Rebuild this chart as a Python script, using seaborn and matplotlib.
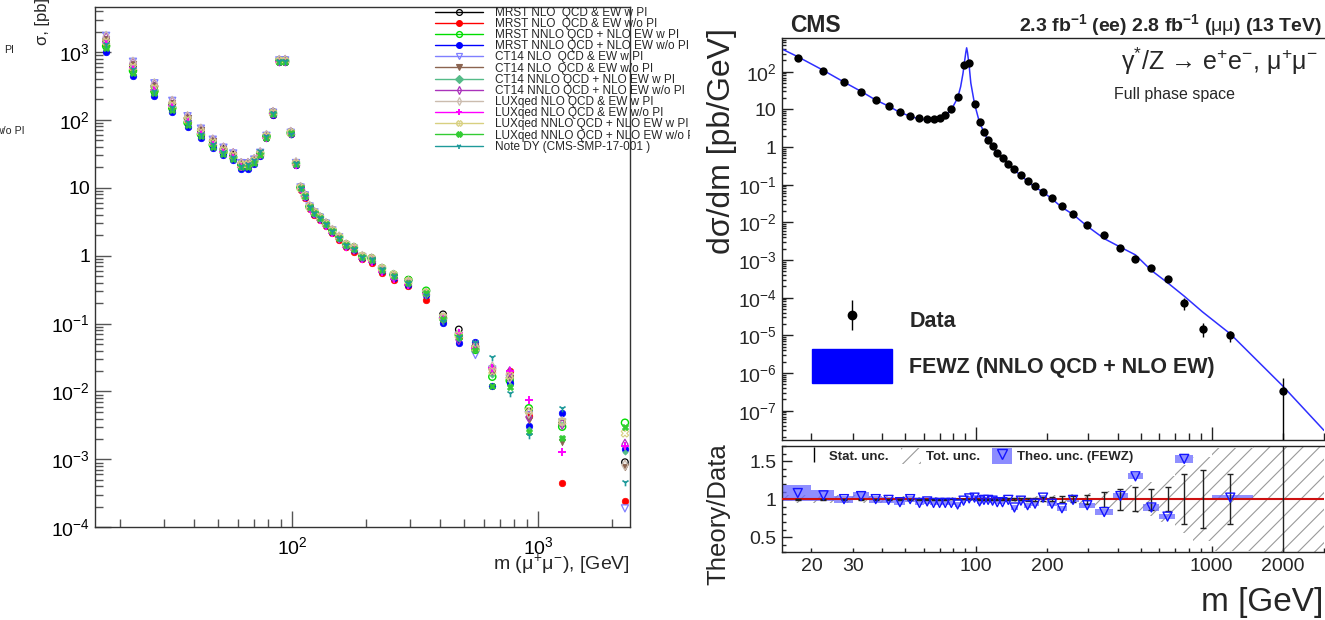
import numpy as np
import pandas as pd
import matplotlib
matplotlib.use("Agg")
import matplotlib.pyplot as plt
import seaborn as sns
from matplotlib.lines import Line2D
from matplotlib.patches import Patch, Rectangle
from matplotlib.legend_handler import HandlerTuple
from matplotlib.ticker import LogLocator, NullFormatter, FuncFormatter, MultipleLocator

# ======================= DATA =======================
# ---- left panel: sigma per mass bin [pb] ----
mass_left = [17.5, 22.5, 27.5, 32.5, 37.5, 42.5, 47.5, 52.5, 57.5, 62, 66, 70, 74, 78.5,
             83.5, 88.5, 93.5, 98.5, 103.5, 108, 112.5, 117.5, 123, 129.5, 137, 145.5, 155,
             165.5, 178, 192.5, 210, 231.5, 258, 296.5, 350, 410, 475, 555, 650, 765, 915,
             1250, 2250]
# central value of the point cluster for the first 34 bins
sigma_central = [1330, 570, 279, 159, 96, 64, 44.8, 34.8, 29.1, 21.4, 21.7, 24.8, 31.5, 56.6,
                 125, 737, 736, 64, 22.7, 9.9, 7.5, 5.2, 4.26, 3.59, 2.9, 2.31, 1.85, 1.42,
                 1.27, 0.957, 0.877, 0.624, 0.497, 0.40]
# per-series position relative to the cluster centre (first 34 bins) and values above 320 GeV
mrst_nlo_pi_lo = [1.12, 1.10, 1.12, 1.08, 1.10, 1.09, 1.08, 1.07, 1.06, 1.04, 1.05, 1.04, 1.03, 1.04, 1.05, 1.03, 1.04,
                  1.04, 1.03, 1.04, 1.05, 1.04, 1.03, 1.04, 1.05, 1.04, 1.03, 1.04, 1.05, 1.04, 1.06, 1.05, 1.06, 1.10]
mrst_nlo_pi_hi = [0.28, 0.137, 0.082, 0.046, 0.022, 0.016, 0.00505, 0.0034, 0.00091]
mrst_nlo_nopi_lo = [0.95, 0.96, 0.97, 0.95, 0.96, 0.95, 0.96, 0.97, 0.95, 0.97, 0.96, 0.97, 0.98, 0.97, 0.96, 0.98, 0.97,
                    0.97, 0.96, 0.93, 0.94, 0.95, 0.94, 0.95, 0.93, 0.94, 0.92, 0.93, 0.90, 0.92, 0.90, 0.88, 0.89, 0.90]
mrst_nlo_nopi_hi = [0.223, 0.112, 0.063, 0.044, 0.021, 0.020, 0.0043, 0.000454, 0.000247]
mrst_nnlo_pi_lo = [0.92, 0.93, 0.95, 0.94, 0.95, 0.96, 0.96, 0.97, 0.97, 0.98, 1.00, 1.01, 1.02, 1.00, 1.00, 1.01, 1.00,
                   1.00, 1.01, 1.02, 1.02, 1.01, 1.02, 1.03, 1.02, 1.03, 1.02, 1.03, 1.04, 1.03, 1.04, 1.05, 1.06, 1.10]
mrst_nnlo_pi_hi = [0.305, 0.12, 0.068, 0.041, 0.0165, 0.0145, 0.00566, 0.00303, 0.00347]
mrst_nnlo_nopi_lo = [0.76, 0.78, 0.80, 0.82, 0.82, 0.84, 0.85, 0.86, 0.87, 0.88, 0.88, 0.90, 0.92, 0.94, 0.95, 0.96, 0.97,
                     0.97, 0.97, 0.98, 0.98, 0.97, 0.98, 0.98, 0.97, 0.97, 0.98, 0.97, 0.96, 0.96, 0.95, 0.95, 0.94, 0.92]
mrst_nnlo_nopi_hi = [0.26, 0.101, 0.052, 0.054, 0.012, 0.0132, 0.0031, 0.00478, 0.00142]
ct14_nlo_pi_lo = [1.30, 1.26, 1.24, 1.20, 1.18, 1.16, 1.14, 1.12, 1.10, 1.08, 1.06, 1.05, 1.04, 1.03, 1.02, 1.02, 1.02,
                  1.01, 1.02, 1.02, 1.03, 1.02, 1.02, 1.01, 1.02, 1.02, 1.01, 1.00, 1.00, 1.00, 0.99, 0.99, 0.98, 0.97]
ct14_nlo_pi_hi = [0.27, 0.118, 0.066, 0.0345, 0.021, 0.0155, 0.0045, 0.0035, 0.00019]
ct14_nlo_nopi_lo = [1.18, 1.15, 1.14, 1.12, 1.10, 1.10, 1.08, 1.07, 1.06, 1.04, 1.03, 1.03, 1.02, 1.01, 1.00, 1.00, 1.00,
                    1.00, 1.00, 1.00, 1.00, 0.99, 0.99, 1.00, 0.99, 0.99, 0.98, 0.98, 0.97, 0.97, 0.96, 0.96, 0.95, 0.95]
ct14_nlo_nopi_hi = [0.265, 0.115, 0.062, 0.046, 0.019, 0.016, 0.0038, 0.00182, 0.00076]
ct14_nnlo_pi_lo = [0.90, 0.90, 0.92, 0.92, 0.93, 0.93, 0.94, 0.94, 0.95, 0.96, 0.96, 0.97, 0.97, 0.98, 0.98, 0.99, 0.99,
                   0.99, 1.00, 1.00, 1.00, 1.00, 1.00, 1.01, 1.00, 1.01, 1.01, 1.00, 1.00, 1.01, 1.00, 1.00, 1.01, 1.02]
ct14_nnlo_pi_hi = [0.27, 0.112, 0.060, 0.052, 0.0175, 0.0125, 0.0028, 0.0021, 0.00127]
ct14_nnlo_nopi_lo = [1.22, 1.20, 1.18, 1.16, 1.14, 1.13, 1.12, 1.10, 1.09, 1.06, 1.05, 1.04, 1.03, 1.02, 1.02, 1.01, 1.02,
                     1.02, 1.01, 1.01, 1.01, 1.00, 1.00, 1.00, 0.99, 1.00, 0.99, 0.99, 0.98, 0.98, 0.98, 0.97, 0.97, 0.97]
ct14_nnlo_nopi_hi = [0.275, 0.116, 0.058, 0.047, 0.021, 0.0195, 0.0042, 0.0033, 0.00167]
lux_nlo_pi_lo = [1.28, 1.24, 1.22, 1.18, 1.16, 1.14, 1.12, 1.10, 1.08, 1.06, 1.05, 1.05, 1.04, 1.04, 1.03, 1.02, 1.02,
                 1.02, 1.03, 1.02, 1.02, 1.03, 1.02, 1.02, 1.03, 1.02, 1.02, 1.02, 1.03, 1.02, 1.03, 1.03, 1.04, 1.04]
lux_nlo_pi_hi = [0.28, 0.122, 0.070, 0.045, 0.023, 0.0158, 0.0048, 0.00359, 0.00082]
lux_nlo_nopi_lo = [1.02, 1.02, 1.00, 1.00, 1.00, 0.99, 0.99, 0.98, 0.98, 0.96, 0.96, 0.96, 0.97, 0.97, 0.98, 0.98, 0.98,
                   0.98, 0.97, 0.96, 0.96, 0.95, 0.96, 0.95, 0.95, 0.95, 0.94, 0.93, 0.94, 0.92, 0.93, 0.92, 0.91, 0.93]
lux_nlo_nopi_hi = [0.27, 0.12, 0.073, 0.044, 0.022, 0.0202, 0.0075, 0.0013, 0.0016]
lux_nnlo_pi_lo = [1.06, 1.05, 1.05, 1.04, 1.04, 1.03, 1.03, 1.02, 1.02, 1.02, 1.02, 1.01, 1.01, 1.01, 1.01, 1.00, 1.00,
                  1.01, 1.01, 1.01, 1.01, 1.01, 1.02, 1.01, 1.02, 1.02, 1.02, 1.03, 1.03, 1.03, 1.04, 1.04, 1.05, 1.05]
lux_nnlo_pi_hi = [0.285, 0.125, 0.067, 0.043, 0.020, 0.017, 0.0052, 0.0036, 0.00242]
lux_nnlo_nopi_lo = [0.86, 0.87, 0.88, 0.88, 0.89, 0.90, 0.90, 0.91, 0.92, 0.93, 0.94, 0.95, 0.96, 0.97, 0.98, 0.98, 0.98,
                    0.99, 0.99, 0.99, 1.00, 1.00, 0.99, 1.00, 1.00, 1.00, 0.99, 1.00, 1.00, 0.99, 1.00, 1.00, 1.00, 1.00]
lux_nnlo_nopi_hi = [0.28, 0.117, 0.064, 0.041, 0.012, 0.0115, 0.00256, 0.00209, 0.00303]
note_dy_lo = [0.98, 0.98, 0.97, 0.97, 0.97, 0.98, 0.98, 0.98, 0.98, 0.97, 1.05, 1.04, 1.10, 1.03, 1.00, 0.99, 1.00,
              0.96, 1.03, 1.00, 1.00, 1.00, 1.01, 1.00, 1.00, 1.01, 1.00, 1.00, 1.00, 1.01, 1.02, 1.01, 1.02, 1.00]
note_dy_hi = [0.26, 0.11, 0.063, 0.053, 0.0326, 0.0094, 0.00229, 0.00566, 0.00047]

series_labels = ["MRST NLO  QCD & EW w PI", "MRST NLO  QCD & EW w/o PI",
                 "MRST NNLO QCD + NLO EW w PI", "MRST NNLO QCD + NLO EW w/o PI",
                 "CT14 NLO  QCD & EW w PI", "CT14 NLO  QCD & EW w/o PI",
                 "CT14 NNLO QCD + NLO EW w PI", "CT14 NNLO QCD + NLO EW w/o PI",
                 "LUXqed NLO QCD & EW w PI", "LUXqed NLO QCD & EW w/o PI",
                 "LUXqed NNLO QCD + NLO EW w PI", "LUXqed NNLO QCD + NLO EW w/o PI",
                 "Note DY (CMS-SMP-17-001 )"]
series_lo = [mrst_nlo_pi_lo, mrst_nlo_nopi_lo, mrst_nnlo_pi_lo, mrst_nnlo_nopi_lo, ct14_nlo_pi_lo,
             ct14_nlo_nopi_lo, ct14_nnlo_pi_lo, ct14_nnlo_nopi_lo, lux_nlo_pi_lo, lux_nlo_nopi_lo,
             lux_nnlo_pi_lo, lux_nnlo_nopi_lo, note_dy_lo]
series_hi = [mrst_nlo_pi_hi, mrst_nlo_nopi_hi, mrst_nnlo_pi_hi, mrst_nnlo_nopi_hi, ct14_nlo_pi_hi,
             ct14_nlo_nopi_hi, ct14_nnlo_pi_hi, ct14_nnlo_nopi_hi, lux_nlo_pi_hi, lux_nlo_nopi_hi,
             lux_nnlo_pi_hi, lux_nnlo_nopi_hi, note_dy_hi]

# ---- right panel: CMS dsigma/dm ----
bin_edges = [15, 20, 25, 30, 35, 40, 45, 50, 55, 60, 64, 68, 72, 76, 81, 86, 91, 96, 101, 106, 110,
             115, 120, 126, 133, 141, 150, 160, 171, 185, 200, 220, 243, 273, 320, 380, 440, 510,
             600, 700, 830, 1000, 1500, 3000]
mass_right = [17.5, 22.5, 27.5, 32.5, 37.5, 42.5, 47.5, 52.5, 57.5, 62, 66, 70, 74, 78.5, 83.5,
              88.5, 93.5, 98.5, 103.5, 108, 112.5, 117.5, 123, 129.5, 137, 145.5, 155, 165.5, 178,
              192.5, 210, 231.5, 258, 296.5, 350, 410, 475, 555, 650, 765, 915, 1200, 2000]
dsdm_data = [235, 104, 53, 29, 17.7, 12.3, 8.67, 6.63, 5.79, 5.46, 5.56, 5.92, 7.06, 10.0, 21.7,
             150, 167, 13.6, 4.5, 2.5, 1.5, 1.04, 0.71, 0.51, 0.36, 0.257, 0.185, 0.129, 0.091,
             0.064, 0.044, 0.027, 0.0166, 0.0085, 0.0045, 0.0021, 0.00105, 6.0e-4, 3.2e-4, 7.2e-5,
             1.5e-5, 1.0e-5, 3.3e-7]
stat_rel = [0.006, 0.006, 0.005, 0.005, 0.005, 0.005, 0.005, 0.005, 0.005, 0.005, 0.005, 0.005, 0.005,
            0.004, 0.003, 0.002, 0.002, 0.004, 0.005, 0.006, 0.007, 0.008, 0.008, 0.009, 0.010, 0.011,
            0.012, 0.02, 0.02, 0.025, 0.03, 0.035, 0.04, 0.06, 0.10, 0.14, 0.16, 0.14, 0.16, 0.33,
            0.38, 0.33, 1.2]
fewz_mass = [15, 17.5, 22.5, 27.5, 32.5, 37.5, 42.5, 47.5, 52.5, 57.5, 62, 66, 70, 74, 78.5, 83.5,
             86, 88, 89.5, 90.5, 91.2, 92, 93.5, 95, 98.5, 103.5, 108, 112.5, 117.5, 123, 129.5, 137,
             145.5, 155, 165.5, 178, 192.5, 210, 231.5, 258, 296.5, 350, 410, 475, 555, 650, 765,
             915, 1200, 2000, 3000]
fewz_dsdm = [400, 250, 108, 53, 30, 17.7, 12.2, 8.3, 6.6, 5.5, 5.3, 5.3, 5.7, 6.8, 9.8, 20,
             40, 90, 200, 330, 430, 320, 140, 50, 14, 4.4, 2.5, 1.5, 1.02, 0.69, 0.5, 0.35,
             0.235, 0.18, 0.12, 0.086, 0.064, 0.042, 0.025, 0.0163, 0.0079, 0.0037, 0.0022, 0.00137,
             5.3e-4, 2.5e-4, 1.1e-4, 4.2e-5, 1.1e-5, 4.6e-7, 3.0e-8]
ratio_theory_data = [1.08, 1.05, 1.0, 1.04, 1.0, 0.99, 0.96, 1.0, 0.95, 0.97, 0.95, 0.95, 0.95, 0.95,
                     0.93, 0.98, 1.01, 1.02, 0.97, 0.99, 0.99, 0.98, 0.96, 0.96, 0.99, 0.89, 0.98,
                     0.92, 0.94, 1.02, 0.94, 0.88, 0.99, 0.92, 0.83, 1.04, 1.30, 0.89, 0.77, 1.53,
                     np.nan, 1.02, np.nan]
theo_unc = [0.10, 0.07, 0.045, 0.055, 0.045, 0.04, 0.035, 0.035, 0.03, 0.03, 0.03, 0.03, 0.03, 0.03,
            0.03, 0.03, 0.03, 0.03, 0.03, 0.03, 0.03, 0.03, 0.03, 0.03, 0.03, 0.03, 0.03, 0.03, 0.03,
            0.03, 0.03, 0.03, 0.03, 0.035, 0.035, 0.035, 0.04, 0.04, 0.035, 0.05, 0.05, 0.035, 0.05]
tot_unc = [0.05, 0.05, 0.05, 0.05, 0.045, 0.04, 0.035, 0.03, 0.03, 0.03, 0.03, 0.03, 0.03, 0.03,
           0.03, 0.03, 0.03, 0.03, 0.03, 0.03, 0.03, 0.03, 0.03, 0.035, 0.035, 0.035, 0.04, 0.04,
           0.045, 0.05, 0.05, 0.06, 0.07, 0.08, 0.11, 0.15, 0.18, 0.22, 0.30, 0.45, 0.55, 0.68, 1.5]
ratio_xtick_labels = [20, 30, 100, 200, 1000, 2000]

for lst in series_lo:
    assert len(lst) == len(sigma_central)
for lst in series_hi:
    assert len(lst) == len(mass_left) - len(sigma_central)
for lst in (dsdm_data, stat_rel, ratio_theory_data, theo_unc, tot_unc):
    assert len(lst) == len(mass_right) == len(bin_edges) - 1
assert len(fewz_mass) == len(fewz_dsdm)

# ======================= STYLE =======================
sns.set_theme(style="ticks")
plt.rcParams["font.family"] = ["Liberation Sans", "DejaVu Sans"]
plt.rcParams["mathtext.fontset"] = "custom"
plt.rcParams["mathtext.rm"] = "Liberation Sans"
plt.rcParams["mathtext.it"] = "Liberation Sans"
plt.rcParams["mathtext.bf"] = "Liberation Sans:bold"
plt.rcParams["hatch.linewidth"] = 0.8
plt.rcParams["axes.linewidth"] = 1.0

W, H = 1325, 620
fig = plt.figure(figsize=(W / 100, H / 100), dpi=100)
fig.patch.set_facecolor("white")


def fx(px):
    return px / W


def fy(py):
    return 1 - py / H


def sci_label(v, pos=None):
    if v <= 0:
        return ""
    e = int(round(np.log10(v)))
    if abs(v - 10.0 ** e) > 1e-6 * v:
        return ""
    if e == 0:
        return "1"
    if e == 1:
        return "10"
    return r"10$^{%d}$" % e


def pow_label(v, pos=None):
    e = int(round(np.log10(v)))
    return r"10$^{%d}$" % e


# ======================= LEFT PANEL =======================
axL = fig.add_axes([fx(95.4), fy(527.3), fx(630) - fx(95.4), fy(6.7) - fy(527.3)])
axL.set_zorder(0)
axL.set_xscale("log")
axL.set_yscale("log")

rows = []
for lab, lo, hi in zip(series_labels, series_lo, series_hi):
    vals = [c * r for c, r in zip(sigma_central, lo)] + list(hi)
    for m, v in zip(mass_left, vals):
        rows.append((m, v, lab))
df_left = pd.DataFrame(rows, columns=["mass", "sigma", "series"])

left_styles = [
    dict(marker="o", color="#000000", filled=False, s=22, lw=0.9),
    dict(marker="o", color="#ff0000", filled=True, s=22, lw=0.5),
    dict(marker="o", color="#00dd00", filled=False, s=26, lw=1.0),
    dict(marker="o", color="#0000ff", filled=True, s=22, lw=0.5),
    dict(marker="v", color="#7f7fff", filled=False, s=26, lw=0.9),
    dict(marker="v", color="#8b6450", filled=True, s=22, lw=0.5),
    dict(marker="D", color="#55bb88", filled=True, s=7, lw=0.5),
    dict(marker="d", color="#aa33bb", filled=False, s=26, lw=0.9),
    dict(marker="d", color="#cbbcae", filled=False, s=26, lw=0.9),
    dict(marker="+", color="#ff00ff", filled=None, s=34, lw=1.4),
    dict(marker="X", color="#d8d080", filled=False, s=28, lw=0.8),
    dict(marker="X", color="#33cc33", filled=True, s=20, lw=0.5),
    dict(marker="1", color="#1f9a9a", filled=None, s=30, lw=1.2),
]

for lab, st in zip(series_labels, left_styles):
    sub = df_left[df_left["series"] == lab]
    kw = dict(marker=st["marker"], s=st["s"], linewidth=st["lw"], color=st["color"])
    if st["filled"] is None:
        kw["edgecolor"] = None
    elif st["filled"]:
        kw["edgecolor"] = st["color"]
    else:
        kw["facecolor"] = "none"
        kw["edgecolor"] = st["color"]
    sns.scatterplot(data=sub, x="mass", y="sigma", ax=axL, legend=False, zorder=3, **kw)

axL.set_xlim(15.83, 2359)
axL.set_ylim(1e-4, 4645)
axL.set_xlabel("")
axL.set_ylabel("")
axL.xaxis.set_major_locator(LogLocator(base=10, numticks=20))
axL.xaxis.set_minor_locator(LogLocator(base=10, subs=np.arange(2, 10), numticks=20))
axL.xaxis.set_major_formatter(FuncFormatter(pow_label))
axL.xaxis.set_minor_formatter(NullFormatter())
axL.yaxis.set_major_locator(LogLocator(base=10, numticks=20))
axL.yaxis.set_minor_locator(LogLocator(base=10, subs=np.arange(2, 10), numticks=20))
axL.yaxis.set_major_formatter(FuncFormatter(sci_label))
axL.yaxis.set_minor_formatter(NullFormatter())
axL.tick_params(axis="both", which="both", direction="in", color="#555555", width=1,
                labelcolor="black", labelsize=14, top=False, right=False)
axL.tick_params(axis="both", which="major", length=11.5)
axL.tick_params(axis="both", which="minor", length=5.5)
axL.tick_params(axis="x", which="major", pad=6.5)
axL.tick_params(axis="y", which="major", pad=3.9)
for sp in axL.spines.values():
    sp.set_color("#333333")
    sp.set_linewidth(1.0)

handles = []
for st in left_styles:
    mfc = st["color"] if st["filled"] in (True, None) else "none"
    handles.append(Line2D([], [], color=st["color"], lw=1.0, marker=st["marker"],
                          markersize=4.2, markerfacecolor=mfc, markeredgecolor=st["color"],
                          markeredgewidth=max(st["lw"], 0.8)))
axL.legend(handles, series_labels, loc="upper left", bbox_to_anchor=(fx(435), fy(6.7)),
           bbox_transform=fig.transFigure, frameon=False, fontsize=8.5, handlelength=4.1,
           handletextpad=0.95, labelspacing=-0.07, borderpad=0, borderaxespad=0)

fig.text(fx(630), fy(570), r"m ($\mu^{+}\mu^{-}$), [GeV]", ha="right", va="baseline", fontsize=14)
fig.text(fx(43), fy(45), "σ, [pb]", rotation=90, ha="center", va="bottom", fontsize=12)
fig.text(fx(14), fy(53), "PI", ha="right", va="baseline", fontsize=7.7)
fig.text(fx(25), fy(134), "w/o PI", ha="right", va="baseline", fontsize=7.7)

# white background of the right-hand figure (covers the overflowing legend)
fig.add_artist(Rectangle((fx(690), 0), 1 - fx(690), 1, transform=fig.transFigure,
                         facecolor="white", edgecolor="none", zorder=1))

# ======================= RIGHT: MAIN PANEL =======================
x_left, x_right = 782, 1324
axM = fig.add_axes([fx(x_left), fy(440.3), fx(x_right) - fx(x_left), fy(38.3) - fy(440.3)])
axR = fig.add_axes([fx(x_left), fy(552.3), fx(x_right) - fx(x_left), fy(446) - fy(552.3)])
for a in (axM, axR):
    a.set_zorder(2)
    a.set_facecolor("white")
    a.set_xscale("log")

axM.set_yscale("log")
sns.lineplot(x=fewz_mass, y=fewz_dsdm, ax=axM, color="#2f2fff", linewidth=1.1, zorder=2)
yerr = [v * r for v, r in zip(dsdm_data, stat_rel)]
axM.errorbar(mass_right, dsdm_data, yerr=yerr, fmt="none", ecolor="black", elinewidth=1.0,
             capsize=0, zorder=3)
sns.scatterplot(x=mass_right, y=dsdm_data, ax=axM, color="black", edgecolor="black",
                s=36, linewidth=0, zorder=4, legend=False)
axM.set_xlim(15, 3000)
axM.set_ylim(1.64e-8, 770)
axM.xaxis.set_major_locator(LogLocator(base=10, numticks=20))
axM.xaxis.set_minor_locator(LogLocator(base=10, subs=np.arange(2, 10), numticks=20))
axM.xaxis.set_major_formatter(NullFormatter())
axM.xaxis.set_minor_formatter(NullFormatter())
axM.yaxis.set_major_locator(LogLocator(base=10, numticks=30))
axM.yaxis.set_minor_locator(LogLocator(base=10, subs=np.arange(2, 10), numticks=30))
axM.yaxis.set_major_formatter(FuncFormatter(sci_label))
axM.yaxis.set_minor_formatter(NullFormatter())
axM.tick_params(axis="both", which="both", direction="in", color="#222222", width=1,
                labelsize=14, top=False, right=False)
axM.tick_params(axis="y", which="major", length=7.7, pad=3.8)
axM.tick_params(axis="y", which="minor", length=3)
axM.tick_params(axis="x", which="major", length=9.4)
axM.tick_params(axis="x", which="minor", length=5)
axM.spines["right"].set_visible(False)
for k in ("left", "top", "bottom"):
    axM.spines[k].set_color("#222222")

h_bar = Line2D([], [], ls="none", marker="|", markersize=21, color="black", markeredgewidth=1.0)
h_dot = Line2D([], [], ls="none", marker="o", markersize=6, color="black")
h_fewz = Patch(facecolor="#0000ff", edgecolor="#0000ff")
axM.legend([(h_bar, h_dot), h_fewz], ["Data", "FEWZ (NNLO QCD + NLO EW)"],
           handler_map={tuple: HandlerTuple(ndivide=1)}, loc="upper left",
           bbox_to_anchor=(fx(812), fy(303)), bbox_transform=fig.transFigure, frameon=False,
           prop=dict(weight="bold", size=15.5), handlelength=3.72, handleheight=2.05,
           handletextpad=0.8, labelspacing=0.56, borderpad=0, borderaxespad=0)

# ======================= RIGHT: RATIO PANEL =======================
widths = np.diff(bin_edges)
axR.bar(bin_edges[:-1], [2 * t for t in tot_unc], bottom=[1 - t for t in tot_unc], width=widths,
        align="edge", facecolor="none", edgecolor="#9a9a9a", linewidth=0, hatch="//", zorder=1)
ok = [i for i, r in enumerate(ratio_theory_data) if not np.isnan(r)]
axR.bar([bin_edges[i] for i in ok], [2 * theo_unc[i] for i in ok],
        bottom=[ratio_theory_data[i] - theo_unc[i] for i in ok], width=[widths[i] for i in ok],
        align="edge", color="#6a6aff", alpha=0.75, linewidth=0, zorder=2)
axR.axhline(1.0, color="#cc1010", lw=1.5, zorder=3)
axR.errorbar(mass_right, [1.0] * len(mass_right), yerr=stat_rel, fmt="none", ecolor="#222222",
             elinewidth=1.0, capsize=2, capthick=1.0, zorder=4)
sns.scatterplot(x=mass_right, y=ratio_theory_data, ax=axR, marker="v", s=42, color="#1515ff",
                facecolor="none", edgecolor="#1515ff", linewidth=1.0, zorder=5, legend=False)
axR.set_xlim(15, 3000)
axR.set_ylim(0.3, 1.7)
axR.xaxis.set_major_locator(LogLocator(base=10, numticks=20))
axR.xaxis.set_minor_locator(LogLocator(base=10, subs=np.arange(2, 10), numticks=20))


def ratio_xlabel(v, pos=None):
    for t in ratio_xtick_labels:
        if abs(v - t) < 1e-6 * t:
            return "%d" % t
    return ""


axR.xaxis.set_major_formatter(FuncFormatter(ratio_xlabel))
axR.xaxis.set_minor_formatter(FuncFormatter(ratio_xlabel))
axR.yaxis.set_major_locator(MultipleLocator(0.5))
axR.yaxis.set_minor_locator(MultipleLocator(0.1))
axR.yaxis.set_major_formatter(FuncFormatter(lambda v, p: "%g" % v))
axR.tick_params(axis="both", which="both", direction="in", color="#222222", width=1,
                labelsize=14, top=False, right=False)
axR.tick_params(axis="y", which="major", length=7.2, pad=3.8)
axR.tick_params(axis="y", which="minor", length=2.9)
axR.tick_params(axis="x", which="major", length=4.3, pad=4.3)
axR.tick_params(axis="x", which="minor", length=2.9, pad=4.3)
axR.spines["right"].set_visible(False)
for k in ("left", "top", "bottom"):
    axR.spines[k].set_color("#222222")

h_stat = Line2D([], [], ls="none", marker="|", markersize=10.8, color="black", markeredgewidth=1.0)
h_tot = Patch(facecolor="none", edgecolor="#9a9a9a", linewidth=0, hatch="//")
h_theo_box = Patch(facecolor="#8c8cff", edgecolor="none")
h_theo_tri = Line2D([], [], ls="none", marker="v", markersize=6.5, markerfacecolor="none",
                    markeredgecolor="#1515ff", markeredgewidth=1.0)
axR.legend([h_stat, h_tot, (h_theo_box, h_theo_tri)],
           ["Stat. unc.", "Tot. unc.", "Theo. unc. (FEWZ)"],
           handler_map={tuple: HandlerTuple(ndivide=1)}, ncol=3, loc="upper left",
           bbox_to_anchor=(fx(804), fy(448)), bbox_transform=fig.transFigure, frameon=False,
           prop=dict(weight="bold", size=9.5), handlelength=1.52, handleheight=1.52,
           handletextpad=0.38, columnspacing=0.9, borderpad=0, borderaxespad=0)

# ======================= RIGHT: TEXTS =======================
fig.text(fx(790), fy(31.5), "CMS", fontsize=16.5, fontweight="bold", va="baseline", ha="left")
fig.text(fx(1322), fy(31), r"2.3 fb$^{\mathbf{-1}}$ (ee) 2.8 fb$^{\mathbf{-1}}$ ($\mu\mu$) (13 TeV)",
         fontsize=14, fontweight="bold", va="baseline", ha="right")
fig.text(fx(1318), fy(70), r"γ$^{*}$/Z → e$^{+}$e$^{-}$, μ$^{+}$μ$^{-}$", fontsize=18,
         va="baseline", ha="right")
fig.text(fx(1114), fy(99), "Full phase space", fontsize=11.5, va="baseline", ha="left")
fig.text(fx(722), fy(28), "dσ/dm [pb/GeV]", rotation=90, fontsize=23, ha="center", va="top")
fig.text(fx(718), fy(443), "Theory/Data", rotation=90, fontsize=18.5, ha="center", va="top")
fig.text(fx(1323), fy(611), "m [GeV]", fontsize=24, ha="right", va="baseline")

fig.savefig("out.png", dpi=100)
